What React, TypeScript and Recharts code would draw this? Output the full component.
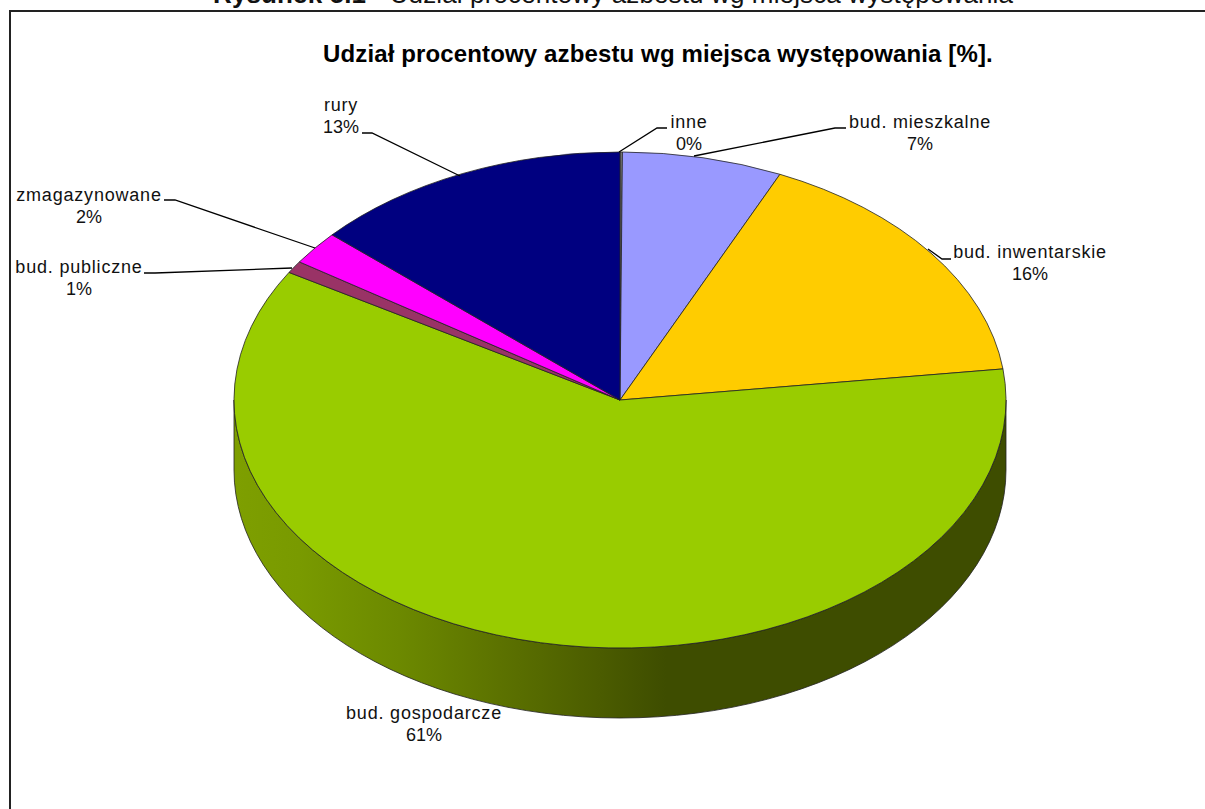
import React from "react";
import { PieChart, Pie, Cell } from "recharts";

const categories = ["inne", "bud. mieszkalne", "bud. inwentarskie", "bud. gospodarcze", "bud. publiczne", "zmagazynowane", "rury"];
const shares = [0.1, 6.7, 16.2, 60.6, 0.8, 2.2, 13.4];
const colors = ["#808080", "#9999FF", "#FFCC00", "#99CC00", "#993366", "#FF00FF", "#000080"];
const chartTitle = "Udział procentowy azbestu wg miejsca występowania [%].";
const captionBold = "Rysunek 5.1";
const captionRest = " - Udział procentowy azbestu wg miejsca występowania";

const rows = categories.map((name, i) => ({ name, value: shares[i] }));

// label placement: text centre x, first-line centre y, leader polyline
const labelLayout: { x: number; y: number; line?: number[][] }[] = [
  { x: 689, y: 122, line: [[619, 152], [657, 128], [667, 128]] },
  { x: 920, y: 122, line: [[694, 156], [835, 128], [846, 128]] },
  { x: 1030, y: 252, line: [[928, 249], [942, 259], [951, 259]] },
  { x: 424, y: 713 },
  { x: 79, y: 267, line: [[292, 268], [155, 273], [144, 273]] },
  { x: 89, y: 195, line: [[315, 248], [175, 200], [164, 200]] },
  { x: 341, y: 105, line: [[460, 176], [372, 133], [362, 133]] },
];

const SQUASH = 248 / 386;
const DEPTH = 70;

function EllipseSlice(props: any) {
  const { cx, cy, outerRadius, startAngle, endAngle, fill } = props;
  const rx = outerRadius;
  const ry = outerRadius * SQUASH;
  const pt = (deg: number, dy = 0) => {
    const r = (deg * Math.PI) / 180;
    return `${cx + rx * Math.cos(r)} ${cy - ry * Math.sin(r) + dy}`;
  };
  const large = Math.abs(startAngle - endAngle) > 180 ? 1 : 0;
  const top = `M ${cx} ${cy} L ${pt(startAngle)} A ${rx} ${ry} 0 ${large} 1 ${pt(endAngle)} Z`;
  const s = Math.min(startAngle, 0);
  const e = Math.max(endAngle, -180);
  const hasWall = s > e;
  const wall = `M ${pt(s)} A ${rx} ${ry} 0 0 1 ${pt(e)} L ${pt(e, DEPTH)} A ${rx} ${ry} 0 0 0 ${pt(s, DEPTH)} Z`;
  return (
    <g>
      {hasWall && (
        <>
          <defs>
            <linearGradient id="wallShade" gradientUnits="userSpaceOnUse" x1={cx - rx} x2={cx + rx} y1={0} y2={0}>
              <stop offset="0" stopColor="#7E9F00" />
              <stop offset="0.084" stopColor="#799A00" />
              <stop offset="0.214" stopColor="#6C8900" />
              <stop offset="0.344" stopColor="#5C7200" />
              <stop offset="0.474" stopColor="#4B5C00" />
              <stop offset="0.56" stopColor="#3E4D00" />
              <stop offset="1" stopColor="#3E4D00" />
            </linearGradient>
          </defs>
          <path d={wall} fill="url(#wallShade)" stroke="#222" strokeWidth={0.8} />
        </>
      )}
      <path d={top} fill={fill} stroke="#222" strokeWidth={0.8} strokeLinejoin="round" />
    </g>
  );
}

function SliceLabel(props: any) {
  const { index, name, percent } = props;
  const l = labelLayout[index];
  return (
    <g>
      {l.line && (
        <polyline points={l.line.map((p) => p.join(",")).join(" ")} fill="none" stroke="#000" strokeWidth={1.3} />
      )}
      <text x={l.x} y={l.y} textAnchor="middle" dominantBaseline="central" fontFamily="Liberation Sans" fontSize={18} letterSpacing={0.8} fill="#111">
        {name}
      </text>
      <text x={l.x} y={l.y + 21.5} textAnchor="middle" dominantBaseline="central" fontFamily="Liberation Sans" fontSize={18} fill="#111">
        {`${Math.round(percent * 100)}%`}
      </text>
    </g>
  );
}

export default function App() {
  return (
    <div style={{ position: "absolute", left: 0, top: 0, width: 1205, height: 809, overflow: "hidden", background: "#fff" }}>
      <div style={{ position: "absolute", left: 9, top: 9.5, width: 1300, height: 900, border: "2px solid #222", boxSizing: "border-box" }} />
      <div style={{ position: "absolute", left: 213, top: -17, whiteSpace: "pre", fontFamily: "Liberation Sans", fontSize: 26, letterSpacing: 0.13, lineHeight: "22px", color: "#111" }}>
        <b>{captionBold}</b>
        {captionRest}
      </div>
      <div style={{ position: "absolute", left: 323, top: 41, whiteSpace: "pre", fontFamily: "Liberation Sans", fontSize: 24, letterSpacing: 0.13, lineHeight: "26px", fontWeight: 700, color: "#000" }}>
        {chartTitle}
      </div>
      <div style={{ position: "absolute", left: 0, top: 0 }}>
        <PieChart width={1205} height={809} margin={{ top: 0, right: 0, bottom: 0, left: 0 }}>
          <Pie
            data={rows}
            dataKey="value"
            nameKey="name"
            cx={620}
            cy={400}
            innerRadius={0}
            outerRadius={386}
            startAngle={90}
            endAngle={-270}
            paddingAngle={0}
            isAnimationActive={false}
            shape={EllipseSlice}
            inactiveShape={EllipseSlice}
            label={SliceLabel}
            labelLine={false}
            stroke="none"
          >
            {rows.map((r, i) => (
              <Cell key={r.name} fill={colors[i]} />
            ))}
          </Pie>
        </PieChart>
      </div>
    </div>
  );
}
